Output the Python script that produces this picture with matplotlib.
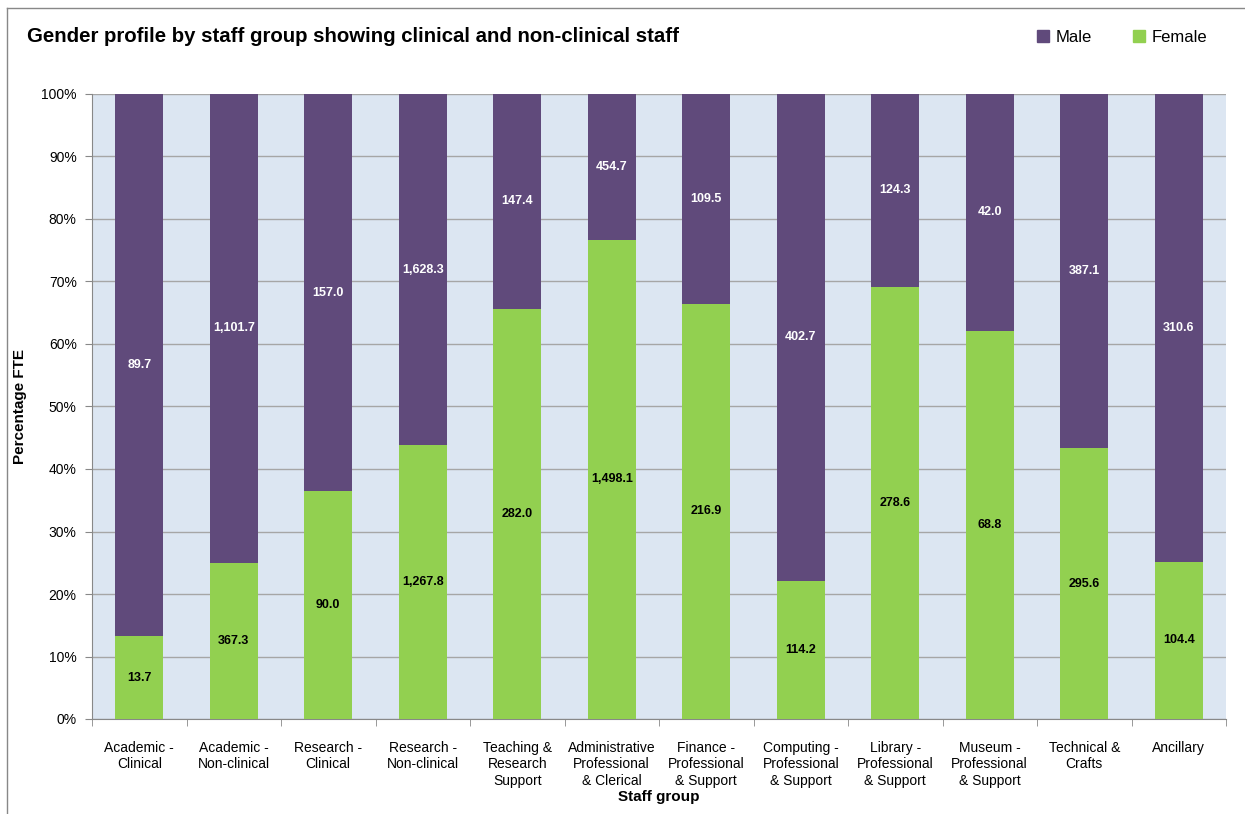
import numpy as np
import matplotlib
matplotlib.use('Agg')
import matplotlib.pyplot as plt
from matplotlib.lines import Line2D
from matplotlib.patches import Patch

plt.rcParams['font.family'] = ['Liberation Sans', 'DejaVu Sans']

# Datos (FTE)
grupos = [
    'Academic -\nClinical', 'Academic -\nNon-clinical', 'Research -\nClinical',
    'Research -\nNon-clinical', 'Teaching &\nResearch\nSupport',
    'Administrative\nProfessional\n& Clerical', 'Finance -\nProfessional\n& Support',
    'Computing -\nProfessional\n& Support', 'Library -\nProfessional\n& Support',
    'Museum -\nProfessional\n& Support', 'Technical &\nCrafts', 'Ancillary',
]
mujeres = [13.7, 367.3, 90.0, 1267.8, 282.0, 1498.1, 216.9, 114.2, 278.6, 68.8, 295.6, 104.4]
hombres = [89.7, 1101.7, 157.0, 1628.3, 147.4, 454.7, 109.5, 402.7, 124.3, 42.0, 387.1, 310.6]

c_male = '#604A7B'
c_female = '#92D050'

f = np.array(mujeres)
m = np.array(hombres)
total = f + m
pf = f / total * 100
pm = m / total * 100
x = np.arange(len(grupos))

fig = plt.figure(figsize=(12.45, 8.14), dpi=100)
ax = fig.add_axes([92 / 1245, 1 - 719 / 814, (1226 - 92) / 1245, (719 - 94) / 814])
ax.set_facecolor('#DCE6F2')

ax.bar(x, pf, width=0.51, color=c_female, zorder=3)
ax.bar(x, pm, width=0.51, bottom=pf, color=c_male, zorder=3)

for i in range(len(x)):
    ax.text(x[i], pf[i] / 2, f'{f[i]:,.1f}', ha='center', va='center',
            fontsize=9, fontweight='bold', color='black', zorder=4)
    ax.text(x[i], pf[i] + pm[i] / 2, f'{m[i]:,.1f}', ha='center', va='center',
            fontsize=9, fontweight='bold', color='white', zorder=4)

ax.set_xlim(-0.5, len(x) - 0.5)
ax.set_ylim(0, 100)
ax.set_yticks(np.arange(0, 101, 10))
ax.set_yticklabels([f'{v}%' for v in range(0, 101, 10)], fontsize=10)
ax.yaxis.grid(True, color='#A6A6A6', linewidth=1, zorder=1)
ax.tick_params(axis='y', length=5, color='#888888', pad=6)

ax.set_xticks(x)
ax.set_xticklabels(grupos, fontsize=10, linespacing=1.2)
ax.tick_params(axis='x', which='major', length=0, pad=16)
ax.set_xticks(np.arange(-0.5, len(x), 1), minor=True)
ax.tick_params(axis='x', which='minor', length=5, color='#888888')

for s in ['top', 'right']:
    ax.spines[s].set_visible(False)
for s in ['left', 'bottom']:
    ax.spines[s].set_color('#888888')

ax.set_ylabel('Percentage FTE', fontsize=11, fontweight='bold', labelpad=10)
ax.set_xlabel('Staff group', fontsize=11, fontweight='bold', labelpad=2)

fig.text(27 / 1245, 1 - 37 / 814, 'Gender profile by staff group showing clinical and non-clinical staff',
         fontsize=14.7, fontweight='bold', va='center', ha='left')

handles = [Patch(color=c_male, label='Male'), Patch(color=c_female, label='Female')]
fig.legend(handles=handles, loc='center', bbox_to_anchor=(1122 / 1245, 1 - 37 / 814),
           ncol=2, frameon=False, fontsize=12, handlelength=0.7, handleheight=0.7,
           handletextpad=0.4, columnspacing=2.5)

# Marco exterior
fig.add_artist(Line2D([7 / 1245, 1], [1 - 8 / 814, 1 - 8 / 814], color='#888888', linewidth=1,
                      transform=fig.transFigure))
fig.add_artist(Line2D([7 / 1245, 7 / 1245], [0, 1 - 8 / 814], color='#888888', linewidth=1,
                      transform=fig.transFigure))

fig.savefig('out.png', dpi=100)
